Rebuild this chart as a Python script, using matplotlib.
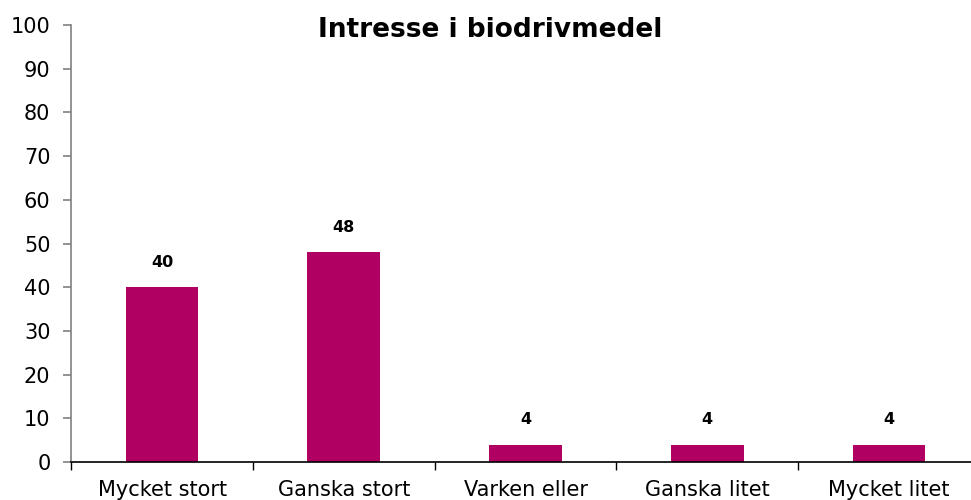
import matplotlib
matplotlib.use("Agg")
import matplotlib.pyplot as plt
import numpy as np

categories = ["Mycket stort", "Ganska stort", "Varken eller", "Ganska litet", "Mycket litet"]
values = [40, 48, 4, 4, 4]
yticks = list(range(0, 101, 10))
title = "Intresse i biodrivmedel"
bar_color = "#B00062"

fig = plt.figure(figsize=(9.71, 5.0), dpi=100)
ax = fig.add_axes([71.3 / 971, 38 / 500, (979.7 - 71.3) / 971, (462 - 25) / 500])

x = np.arange(len(categories))
ax.bar(x, values, width=0.4, color=bar_color, zorder=2)
for xi, v in zip(x, values):
    ax.annotate(str(v), (xi, v), xytext=(0, 18), textcoords="offset points",
                ha="center", va="center", fontsize=11.5, fontweight="bold",
                family="DejaVu Sans")

ax.set_xlim(-0.5, len(categories) - 0.5)
ax.set_ylim(0, 100)
ax.set_yticks(yticks)
ax.set_yticklabels([str(t) for t in yticks], fontsize=15, family="DejaVu Sans")
ax.tick_params(axis="y", direction="out", length=6, color="#808080", width=1.2, pad=9)

ax.set_xticks(x)
ax.set_xticklabels(categories, fontsize=15, family="DejaVu Sans")
ax.tick_params(axis="x", length=0, pad=13)
ax.set_xticks(np.arange(-0.5, len(categories), 1.0), minor=True)
ax.tick_params(axis="x", which="minor", direction="out", length=6, color="black", width=1)

for s in ["top", "right"]:
    ax.spines[s].set_visible(False)
ax.spines["left"].set_color("#808080")
ax.spines["left"].set_linewidth(1.2)
ax.spines["bottom"].set_color("black")
ax.spines["bottom"].set_linewidth(1.2)

fig.text(490.5 / 971, 1 - 36.7 / 500, title, ha="center", va="baseline",
         fontsize=19, fontweight="bold", family="DejaVu Sans")

fig.savefig("out.png", dpi=100)
